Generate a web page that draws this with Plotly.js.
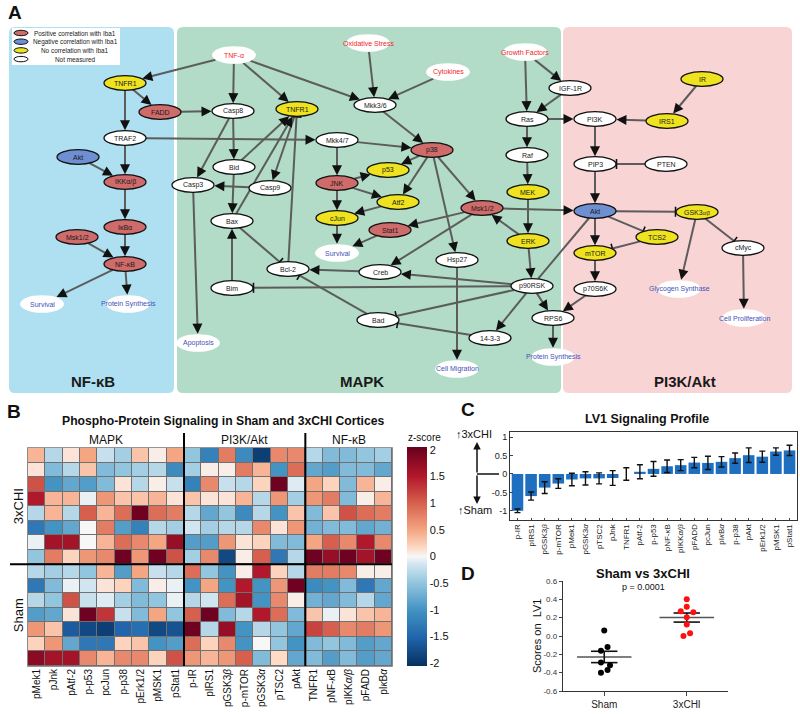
<!DOCTYPE html>
<html><head><meta charset="utf-8">
<script src="https://cdn.plot.ly/plotly-3.0.1.min.js"></script>
<style>html,body{margin:0;padding:0;background:#fff}#chart{width:800px;height:714px}</style>
</head><body><div id="chart"></div>
<script>
// ================= Panel A: signaling network =================
const nodeIds    = ['tnfr1n','fadd','traf2','aktn','ikk','ikb','mskn','nfkb','surv1','ps1',
  'tnfa','ox','cyt','gf','casp8','tnfr1m','mkk36','mkk47','bid','casp3','casp9','jnk','p38','p53','atf2','cjun',
  'mskm','stat1','hsp27','creb','bax','bcl2','bim','surv2','apop','bad','p1433','p90','rps6','cellmig','ps2',
  'igf','ras','raf','mek','erk','pi3k','ir','irs1','pip3','pten','akt','gsk','tcs2','mtor','cmyc','p70','glyc','cellpro'];
const nodeLabels = ['TNFR1','FADD','TRAF2','Akt','IKKα/β','IκBα','Msk1/2','NF-κB','Survival','Protein Synthesis',
  'TNF-α','Oxidative Stress','Cytokines','Growth Factors','Casp8','TNFR1','Mkk3/6','Mkk4/7','Bid','Casp3','Casp9','JNK','p38','p53','Atf2','cJun',
  'Msk1/2','Stat1','Hsp27','Creb','Bax','Bcl-2','Bim','Survival','Apoptosis','Bad','14-3-3','p90RSK','RPS6','Cell Migration','Protein Synthesis',
  'IGF-1R','Ras','Raf','MEK','ERK','PI3K','IR','IRS1','PIP3','PTEN','Akt','GSK3<span style="font-size:5px"><i>α/β</i></span>','TCS2','mTOR','cMyc','p70S6K','Glycogen Synthase','Cell Proliferation'];
const nodeX = [125,160,125,78,125,125,77,125,42,128,
  234,368,448,525,233,297,375,337,234,193,270,337,432,388,398,337,
  482,390,457,380,232,288,232,337,198,378,490,532,553,457,553,
  570,527,527,528,528,595,702,667,595,666,595,697,657,595,743,595,679,744];
const nodeY = [83,112,138,157,182,227,237,264,304,304,
  55,43,72,52,111,109,105,140,167,185,188,183,150,170,202,218,
  208,230,260,272,221,269,288,253,343,320,338,286,318,369,357,
  88,119,155,192,241,119,79,121,164,164,211,212,237,253,248,289,289,318];
const nodeKind = ['none','pos','nm','neg','pos','pos','pos','pos','out','out',
  'in','in','in','in','nm','none','nm','nm','nm','nm','nm','pos','pos','none','none','none',
  'pos','pos','nm','nm','nm','nm','nm','out','out','nm','nm','nm','nm','out','out',
  'nm','nm','nm','none','none','nm','none','none','nm','nm','neg','none','none','none','nm','nm','out','out'];
// edges: a = activation, i = inhibition, l = link
const edgeList = [
  ['tnfa','tnfr1n','a'],['tnfr1n','fadd','a'],['tnfr1n','traf2','a'],['traf2','ikk','a'],['aktn','ikk','a'],
  ['ikk','ikb','a'],['ikb','nfkb','a'],['mskn','nfkb','a'],['nfkb','surv1','a'],['nfkb','ps1','a'],
  ['traf2','mkk47','a'],['fadd','casp8','a'],
  ['tnfa','casp8','a'],['tnfa','tnfr1m','a'],['tnfa','mkk36','a'],['ox','mkk36','a'],['cyt','mkk36','a'],
  ['casp8','bid','a'],['casp8','casp3','a'],['bid','bax','a'],['bid','tnfr1m','a'],['bax','tnfr1m','a'],
  ['tnfr1m','casp9','a'],['bcl2','tnfr1m','i'],['casp9','casp3','a'],['casp3','apop','a'],['bim','bax','a'],
  ['bax','bcl2','i'],['bad','bcl2','i'],['creb','bcl2','a'],['p90','bim','i'],
  ['mkk47','jnk','a'],['mkk47','p38','a'],['mkk36','p38','a'],['jnk','cjun','a'],['jnk','p53','a'],['jnk','atf2','a'],
  ['p38','p53','a'],['p38','atf2','a'],['p38','mskm','a'],['p38','hsp27','a'],['atf2','cjun','a'],
  ['cjun','surv2','a'],['stat1','surv2','a'],['mskm','stat1','a'],['mskm','creb','a'],['mskm','akt','a'],
  ['erk','mskm','a'],['mek','erk','a'],['raf','mek','a'],['ras','raf','a'],['ras','pi3k','a'],
  ['gf','ras','a'],['gf','igf','a'],['igf','ras','a'],['erk','p90','a'],['p90','creb','a'],['p90','bad','i'],
  ['p1433','bad','i'],['p90','p1433','a'],['p90','rps6','a'],['hsp27','cellmig','a'],['rps6','ps2','a'],['akt','p90','l'],
  ['ir','irs1','a'],['irs1','pi3k','a'],['pi3k','pip3','a'],['pten','pip3','i'],['pip3','akt','a'],
  ['akt','gsk','i'],['akt','tcs2','i'],['akt','mtor','a'],['tcs2','mtor','i'],['mtor','p70','a'],['p70','rps6','a'],
  ['gsk','glyc','a'],['gsk','cmyc','i'],['cmyc','cellpro','a']
];
const legendLabels = ['Positive correlation with Iba1','Negative correlation with Iba1','No correlation with Iba1','Not measured'];
const legendKinds  = ['pos','neg','none','nm'];
const pathwayNames = ['NF-κB','MAPK','PI3K/Akt'];

// ================= Panel B: heatmap =================
const hmGroups = ['MAPK','PI3K/Akt','NF-κB'];
const hmLabels = ['pMek1','pJnk','pAtf-2','p-p53','pcJun','p-p38','pErk1/2','pMSK1','pStat1',
  'p-IR','pIRS1','pGSK3<i>β</i>','p-mTOR','pGSK3<i>α</i>','pTSC2','pAkt',
  'TNFR1','pNF-<i>κ</i>B','pIKK<i>α/β</i>','pFADD','pI<i>κ</i>B<i>α</i>'];
const chiRows = [
  [0.4,-0.3,0.1,0.5,-0.2,-0.4,0.3,0.05,0.5, -0.5,-1.2,0.8,-1.1,-1.9,0.7,0.7, -0.3,-0.6,-0.6,-0.5,-0.4],
  [0.1,-0.6,-0.3,0.3,-0.6,-0.5,-0.4,-0.3,-1.1, -0.4,0.05,0.05,0.8,0.4,-1.0,0.9, -0.8,-0.9,-0.6,-0.6,-0.8],
  [1.1,-1.0,-0.8,-0.9,-0.6,0.1,-0.3,0.05,-0.2, -1.2,0.7,-0.2,-0.3,0.2,2.0,-0.1, 0.5,0.2,-0.6,0.4,0.05],
  [1.5,0.4,0.4,-0.05,0.6,0.3,0.3,0.4,0.1, 0.3,0.1,0.1,0.4,-0.3,0.6,-0.4, 0.6,0.8,-0.6,0.05,0.4],
  [-0.3,0.4,-0.3,1.0,0.4,0.9,2.0,0.9,0.8, -0.3,-0.8,-0.5,-1.1,-0.3,-1.0,0.3, -0.6,0.3,1.1,0.9,0.8],
  [-1.3,-1.0,-0.8,0.0,0.8,-0.9,-1.2,-0.3,-0.4, -0.15,-0.4,-0.3,-0.3,0.7,0.1,0.6, -0.7,-0.6,-0.6,-0.8,-0.7],
  [-0.05,1.6,1.6,0.0,0.4,0.9,0.7,0.5,1.7, -0.9,-0.9,0.6,0.1,0.2,-0.6,-0.6, 0.5,1.0,0.7,1.5,0.7],
  [-0.5,0.8,0.2,0.6,0.7,2.0,0.6,2.0,1.1, -0.4,0.7,-1.8,0.05,1.0,-1.3,-0.3, 2.0,1.7,2.0,1.6,2.0]
];
const shamRows = [
  [-0.3,-0.4,-0.3,-0.5,0.4,-0.9,0.5,-0.2,-0.3, 0.9,-0.5,-1.0,0.05,1.5,0.2,-0.3, 0.8,0.8,0.7,0.05,0.05],
  [-1.3,-0.6,-0.05,-0.15,0.1,0.2,-0.6,0.05,-0.05, -1.0,0.5,-1.0,1.5,-1.0,0.6,2.0, -1.1,-1.0,-0.6,-1.3,-0.8],
  [-0.3,-0.5,1.1,-0.2,-0.1,-0.4,-0.6,-0.5,-0.05, -0.3,-0.15,0.9,1.6,-1.0,0.7,0.05, -0.7,-0.8,-0.6,-0.3,-0.8],
  [-0.9,-0.8,0.1,2.0,1.3,-0.2,-0.6,0.5,-0.5, 1.0,2.0,-0.6,-0.3,1.5,0.9,-0.6, 0.3,-0.05,0.1,0.3,0.4],
  [0.6,0.3,-1.6,-1.8,-1.9,-1.5,-1.4,-1.8,-1.7, 2.0,-0.3,1.7,-1.0,-0.3,-0.5,-0.8, 1.2,1.0,0.7,0.8,0.6],
  [0.2,0.6,-0.8,-1.3,-1.3,0.2,0.3,-1.0,-0.9, 0.9,0.2,0.7,-1.0,0.0,-0.5,-1.0, -0.6,-0.5,-0.6,-0.9,-0.8],
  [1.8,1.6,1.6,0.7,0.4,0.7,0.7,0.2,1.1, 0.6,0.4,0.6,1.0,-0.6,0.15,-0.8, -0.6,-0.9,-0.6,-0.9,-0.8]
];
const cbTicks = [-2,-1.5,-1,-0.5,0,0.5,1,1.5,2];

// ================= Panel C: LV1 profile =================
const lvLabels = ['p-IR','pIRS1','pGSK3<i>β</i>','p-mTOR','pMek1','pGSK3<i>α</i>','pTSC2','pJnk','TNFR1','pAtf-2',
  'p-p53','pNF-<i>κ</i>B','pIKK<i>α/β</i>','pFADD','pcJun','pI<i>κ</i>B<i>α</i>','p-p38','pAkt','pErk1/2','pMSK1','pStat1'];
const lvValues = [-1.0,-0.6,-0.37,-0.26,-0.15,-0.12,-0.12,-0.11,0.0,0.06,0.14,0.21,0.24,0.31,0.3,0.33,0.43,0.51,0.47,0.61,0.64];
const lvErrors = [0.05,0.11,0.16,0.13,0.17,0.18,0.15,0.2,0.17,0.19,0.2,0.17,0.15,0.14,0.18,0.14,0.14,0.2,0.15,0.1,0.14];

// ================= Panel D: scores =================
const groupNames  = ['Sham','3xCHI'];
const shamScores  = [0.06,-0.12,-0.16,-0.29,-0.32,-0.40,-0.37];
const shamJitter  = [0,0.04,-0.04,-0.04,0.07,-0.04,0.04];
const chiScores   = [0.40,0.32,0.27,0.26,0.205,0.125,0.03,0.0];
const chiJitter   = [0,0,-0.073,0.08,0,0,0.04,-0.04];

// ---------------------------------------------------------------
const FONT = 'Liberation Sans, Arial, Helvetica, sans-serif';
const W = 800, H = 714;
const px = x => x / W, py = y => 1 - y / H;
const shapes = [], annotations = [];
function paperText(x, y, text, size, extra){
  annotations.push(Object.assign({x:px(x), y:py(y), xref:'paper', yref:'paper', xanchor:'center', yanchor:'middle',
    text, showarrow:false, font:{family:FONT, size, color:'#111'}}, extra||{}));
}
const kindFill = {pos:'#cf6b6b', neg:'#6e8fd2', none:'#efe21e', nm:'#ffffff', out:'#ffffff', in:'#ffffff'};
const kindText = {pos:'#1a1a1a', neg:'#1a1a1a', none:'#1a1a1a', nm:'#1a1a1a', out:'#3f51b8', in:'#f0262b'};

// panel backgrounds
const panelX0 = [9,177,563], panelX1 = [174,561,792], panelFill = ['#aee0f2','#b2dcc7','#f8d4d5'], panelTitleX = [93,362,685];
function rr(x0,y0,x1,y1,r){return `M${x0+r},${y0} L${x1-r},${y0} Q${x1},${y0} ${x1},${y0+r} L${x1},${y1-r} Q${x1},${y1} ${x1-r},${y1} L${x0+r},${y1} Q${x0},${y1} ${x0},${y1-r} L${x0},${y0+r} Q${x0},${y0} ${x0+r},${y0} Z`;}
for (let k=0;k<3;k++){
  shapes.push({type:'path', xref:'x', yref:'y', path: rr(panelX0[k],27,panelX1[k],393,6), fillcolor:panelFill[k], line:{width:0}, layer:'above'});
  annotations.push({x:panelTitleX[k], y:381, xref:'x', yref:'y', xanchor:'center', yanchor:'middle', text:'<b>'+pathwayNames[k]+'</b>', showarrow:false, font:{family:FONT,size:15,color:'#1a1a1a'}});
}
// node lookup
const N = {};
nodeIds.forEach((id,i)=>{
  const big = (nodeKind[i]==='out'||nodeKind[i]==='in');
  N[id] = {x:nodeX[i], y:nodeY[i], a: big?22:21, b: big?8.8:7.3, kind:nodeKind[i], label:nodeLabels[i]};
});
function tEdge(n,ux,uy){return 1/Math.sqrt((ux/n.a)**2+(uy/n.b)**2);}
// edges
edgeList.forEach(([f,t,type])=>{
  const A=N[f], B=N[t];
  const dx=B.x-A.x, dy=B.y-A.y, L=Math.hypot(dx,dy), ux=dx/L, uy=dy/L;
  const ta=tEdge(A,ux,uy), tb=tEdge(B,ux,uy);
  const sx=A.x+ux*ta, sy=A.y+uy*ta;
  const ex=B.x-ux*(tb+0.5), ey=B.y-uy*(tb+0.5);
  const back = type==='a' ? 5 : 0;
  shapes.push({type:'line', xref:'x', yref:'y', x0:sx, y0:sy, x1:ex-ux*back, y1:ey-uy*back, line:{color:'#5c5c5c', width:2}, layer:'above'});
  if (type==='a'){
    annotations.push({x:ex, y:ey, xref:'x', yref:'y', ax:-ux*9, ay:-uy*9, text:'', showarrow:true,
      arrowhead:2, arrowsize:1.25, arrowwidth:1.6, arrowcolor:'#111'});
  } else if (type==='i'){
    const qx=-uy, qy=ux;
    shapes.push({type:'line', xref:'x', yref:'y', x0:ex+qx*5, y0:ey+qy*5, x1:ex-qx*5, y1:ey-qy*5, line:{color:'#111', width:1.6}, layer:'above'});
  }
});
// nodes
nodeIds.forEach(id=>{
  const n=N[id];
  const plain = (n.kind==='out'||n.kind==='in');
  shapes.push({type:'circle', xref:'x', yref:'y', x0:n.x-n.a, x1:n.x+n.a, y0:n.y-n.b, y1:n.y+n.b,
    fillcolor:kindFill[n.kind], line:{color:'#111', width: plain?0:1.3}, layer:'above'});
  annotations.push({x:n.x, y:n.y, xref:'x', yref:'y', xanchor:'center', yanchor:'middle', text:n.label, showarrow:false,
    font:{family:FONT, size:7, color:kindText[n.kind]}});
});
// legend
shapes.push({type:'rect', xref:'x', yref:'y', x0:12, x1:120, y0:28, y1:65, fillcolor:'#ffffff', line:{width:0}, layer:'above'});
legendLabels.forEach((lab,i)=>{
  const y=33+i*8.7;
  shapes.push({type:'circle', xref:'x', yref:'y', x0:14, x1:28, y0:y-2.7, y1:y+2.7, fillcolor:kindFill[legendKinds[i]], line:{color:'#111',width:1}, layer:'above'});
  annotations.push({x:75, y:y, xref:'x', yref:'y', xanchor:'center', yanchor:'middle', text:lab, showarrow:false, font:{family:FONT,size:6.4,color:'#1a1a1a'}});
});

// ---------------- Panel labels ----------------
[['A',15,12],['B',14,412],['C',468,410],['D',468,573]].forEach(([t,x,y])=>paperText(x,y,'<b>'+t+'</b>',19));

// ---------------- Heatmap ----------------
const hmX0 = 0.035, hmX1 = 0.49, hmY0 = py(666), hmY1 = py(448);
const zAll = chiRows.concat(shamRows);
const nCol = hmLabels.length, nRow = zAll.length;
const colIdx = hmLabels.map((_,i)=>i);
const rowIdx = zAll.map((_,i)=>i);
const csPts = [[-2.05,'#053061'],[-1.5,'#2166ac'],[-1,'#4393c3'],[-0.5,'#92c5de'],[-0.15,'#d1e5f0'],[0,'#f7f7f7'],
  [0.15,'#fddbc7'],[0.5,'#f4a582'],[1,'#d6604d'],[1.5,'#b2182b'],[2.05,'#67001f']];
const zmin=-2.05, zmax=2.05;
const colorscale = csPts.map(([v,c])=>[(v-zmin)/(zmax-zmin), c]);
shapes.push({type:'rect', xref:'paper', yref:'paper', x0:hmX0-0.001, x1:hmX1+0.001, y0:hmY0-0.001, y1:hmY1+0.001, fillcolor:'#707070', line:{width:0}, layer:'below'});
const xsep = k => hmX0 + (k/nCol)*(hmX1-hmX0);
[9,16].forEach(k=>{
  shapes.push({type:'line', xref:'paper', yref:'paper', x0:xsep(k), x1:xsep(k), y0:hmY0, y1:py(433), line:{color:'#000',width:2}});
});
const ysepP = hmY1 - (chiRows.length/nRow)*(hmY1-hmY0);
shapes.push({type:'line', xref:'paper', yref:'paper', x0:px(10), x1:hmX1, y0:ysepP, y1:ysepP, line:{color:'#000',width:2}});
const grpCenters = [4.5, 12.5, 18.5];
hmGroups.forEach((g,i)=>{
  annotations.push({x:xsep(grpCenters[i]), y:py(440), xref:'paper', yref:'paper', xanchor:'center', yanchor:'middle', text:g, showarrow:false, font:{family:FONT,size:12,color:'#111'}});
});
paperText(223, 421, '<b>Phospho-Protein Signaling in Sham and 3xCHI Cortices</b>', 12.2);
annotations.push({x:px(18), y:hmY1-(4/nRow)*(hmY1-hmY0), xref:'paper', yref:'paper', xanchor:'center', yanchor:'middle', text:'3xCHI', textangle:-90, showarrow:false, font:{family:FONT,size:13,color:'#111'}});
annotations.push({x:px(18), y:hmY1-(11.5/nRow)*(hmY1-hmY0), xref:'paper', yref:'paper', xanchor:'center', yanchor:'middle', text:'Sham', textangle:-90, showarrow:false, font:{family:FONT,size:13,color:'#111'}});
paperText(424, 437, 'z-score', 10);

// ---------------- Panel C decorations ----------------
paperText(474, 434, '↑3xCHI', 11);
paperText(475, 510, '↑Sham', 11);
annotations.push({x:px(477), y:py(442), xref:'paper', yref:'paper', ax:0, ay:32, text:'', showarrow:true, arrowhead:2, arrowsize:1, arrowwidth:1.5, arrowcolor:'#111'});
annotations.push({x:px(477), y:py(504), xref:'paper', yref:'paper', ax:0, ay:-30, text:'', showarrow:true, arrowhead:2, arrowsize:1, arrowwidth:1.5, arrowcolor:'#111'});
shapes.push({type:'line', xref:'paper', yref:'paper', x0:px(477), x1:px(499), y0:py(474), y1:py(474), line:{color:'#111',width:1.5}});
paperText(647, 419, '<b>LV1 Signaling Profile</b>', 12.5);

// ---------------- Panel D ----------------
paperText(643, 573, '<b>Sham vs 3xCHI</b>', 13);
paperText(643, 587, 'p = 0.0001', 9);
paperText(537, 636, 'Scores on  LV1', 11, {textangle:-90});

function meanSem(a){const m=a.reduce((s,v)=>s+v,0)/a.length; const sd=Math.sqrt(a.reduce((s,v)=>s+(v-m)**2,0)/(a.length-1)); return [m, sd/Math.sqrt(a.length)];}
const groups = [shamScores, chiScores];
const meanX=[], meanY=[], semX=[], semY=[];
groups.forEach((g,i)=>{
  const [m,se]=meanSem(g);
  meanX.push(i-0.33,i+0.33,null); meanY.push(m,m,null);
  semX.push(i-0.16,i+0.16,null, i-0.16,i+0.16,null, i,i,null);
  semY.push(m+se,m+se,null, m-se,m-se,null, m-se,m+se,null);
});

const traces = [
  {type:'heatmap', z:zAll, x:colIdx, y:rowIdx, xaxis:'x2', yaxis:'y2', colorscale, zmin, zmax, xgap:1, ygap:1,
   hoverinfo:'skip',
   colorbar:{x:px(407), xanchor:'left', xpad:0, ypad:0, y:py(556.5), yanchor:'middle', len:219, lenmode:'pixels',
     thickness:20, thicknessmode:'pixels', outlinewidth:0, ticks:'', tickvals:cbTicks, ticktext:cbTicks.map(String),
     tickfont:{family:FONT,size:11,color:'#111'}}},
  {type:'bar', x:lvLabels.map((_,i)=>i), y:lvValues, xaxis:'x3', yaxis:'y3', width:0.85,
   marker:{color:'#1f6fc0', line:{width:0}},
   error_y:{type:'data', array:lvErrors, visible:true, color:'#111', thickness:1.4, width:3}, hoverinfo:'skip'},
  {type:'scatter', mode:'lines', x:meanX, y:meanY, xaxis:'x4', yaxis:'y4', line:{color:'#555', width:1.6}, hoverinfo:'skip'},
  {type:'scatter', mode:'lines', x:semX, y:semY, xaxis:'x4', yaxis:'y4', line:{color:'#111', width:1.6}, hoverinfo:'skip'},
  {type:'scatter', mode:'markers', x:shamScores.map((_,i)=>0+shamJitter[i]), y:shamScores, xaxis:'x4', yaxis:'y4', marker:{color:'#000', size:6}, hoverinfo:'skip'},
  {type:'scatter', mode:'markers', x:chiScores.map((_,i)=>1+chiJitter[i]), y:chiScores, xaxis:'x4', yaxis:'y4', marker:{color:'#ff1010', size:6}, hoverinfo:'skip'}
];

const layout = {
  width:W, height:H, margin:{l:0,r:0,t:0,b:0}, showlegend:false,
  paper_bgcolor:'#ffffff', plot_bgcolor:'rgba(0,0,0,0)',
  font:{family:FONT, color:'#111'},
  xaxis:{domain:[0,1], range:[0,W], visible:false, fixedrange:true},
  yaxis:{domain:[py(400),1], range:[400,0], visible:false, fixedrange:true},
  xaxis2:{domain:[hmX0,hmX1], range:[-0.5,nCol-0.5], anchor:'y2', tickvals:colIdx, ticktext:hmLabels, tickangle:-90,
    tickfont:{family:FONT,size:10,color:'#111'}, ticks:'', showgrid:false, zeroline:false, showline:false},
  yaxis2:{domain:[hmY0,hmY1], range:[nRow-0.5,-0.5], anchor:'x2', showticklabels:false, ticks:'', showgrid:false, zeroline:false},
  xaxis3:{domain:[px(510),px(797)], range:[-0.55,lvLabels.length-0.45], anchor:'y3', tickvals:lvLabels.map((_,i)=>i), ticktext:lvLabels,
    tickangle:-90, tickfont:{family:FONT,size:8,color:'#222'}, ticks:'inside', ticklen:2, showline:true, mirror:true,
    linecolor:'#333', linewidth:1, showgrid:false, zeroline:false},
  yaxis3:{domain:[py(520),py(432)], range:[-1.25,1.14], anchor:'x3', tickvals:[-1,-0.5,0,0.5,1], ticktext:['-1','-0.5','0','0.5','1'],
    ticks:'inside', ticklen:3, showline:true, mirror:true, linecolor:'#333', linewidth:1, showgrid:false, zeroline:false,
    tickfont:{family:FONT,size:9,color:'#222'}},
  xaxis4:{domain:[px(563),px(728)], range:[-0.5,1.5], anchor:'y4', tickvals:[0,1], ticktext:groupNames, ticks:'outside', ticklen:4,
    showline:true, linecolor:'#333', linewidth:1.2, showgrid:false, zeroline:false, tickfont:{family:FONT,size:10,color:'#222'}},
  yaxis4:{domain:[py(691),py(581)], range:[-0.6,0.6], anchor:'x4', tickvals:[-0.6,-0.4,-0.2,0,0.2,0.4,0.6],
    ticktext:['-0.6','-0.4','-0.2','0.0','0.2','0.4','0.6'], ticks:'outside', ticklen:3, showline:true, linecolor:'#333', linewidth:1.2,
    showgrid:false, zeroline:false, tickfont:{family:FONT,size:8,color:'#333'}},
  shapes, annotations
};
Plotly.newPlot('chart', traces, layout, {displayModeBar:false, staticPlot:true});
</script></body></html>
